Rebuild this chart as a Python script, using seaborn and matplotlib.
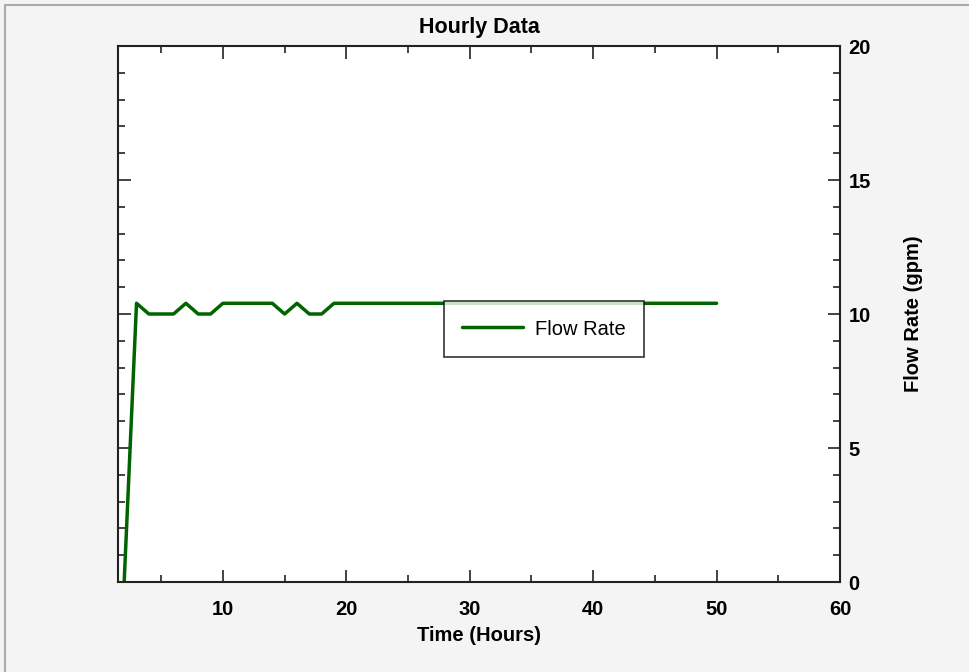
import matplotlib
matplotlib.use("Agg")
import matplotlib.pyplot as plt
from matplotlib.lines import Line2D
from matplotlib.ticker import MultipleLocator
import pandas as pd
import seaborn as sns

# hourly flow readings
hours = list(range(2, 51))
flow = ([0.0, 10.4, 10.0, 10.0, 10.0, 10.4, 10.0, 10.0]
        + [10.4] * 5
        + [10.0, 10.4, 10.0, 10.0]
        + [10.4] * 32)

df = pd.DataFrame({"Time (Hours)": hours, "Flow Rate": flow})

sns.set_style("white")
plt.rcParams["font.family"] = ["Liberation Sans", "DejaVu Sans"]
plt.rcParams["text.color"] = "black"
plt.rcParams["axes.labelcolor"] = "black"

fig = plt.figure(figsize=(9.69, 6.72), dpi=100, facecolor="#f4f4f4")
ax = fig.add_axes([118 / 969, 90 / 672, 722 / 969, 536 / 672])
ax.set_facecolor("white")

sns.lineplot(data=df, x="Time (Hours)", y="Flow Rate", color="#006400",
             linewidth=2.5, ax=ax, label="Flow Rate")

ax.set_xlim(1.5, 60)
ax.set_ylim(0, 20)
ax.xaxis.set_major_locator(MultipleLocator(10))
ax.xaxis.set_minor_locator(MultipleLocator(5))
ax.yaxis.set_major_locator(MultipleLocator(5))
ax.yaxis.set_minor_locator(MultipleLocator(1))

ax.yaxis.tick_right()
ax.yaxis.set_label_position("right")
ax.tick_params(which="both", direction="in", top=True, bottom=True,
               left=True, right=True, labelleft=False, labelright=True,
               width=1.2, color="#222222", labelcolor="black")
ax.tick_params(which="major", length=9, labelsize=14.5)
ax.tick_params(axis="x", which="major", pad=13)
ax.tick_params(axis="y", which="major", pad=6)
ax.tick_params(which="minor", length=5)
for lab in ax.get_xticklabels() + ax.get_yticklabels():
    lab.set_fontweight("bold")

for s in ax.spines.values():
    s.set_visible(True)
    s.set_color("#222222")
    s.set_linewidth(1.5)

ax.set_xlabel("Time (Hours)", fontsize=14.5, fontweight="bold", labelpad=5)
ax.set_ylabel("Flow Rate (gpm)", fontsize=14.5, fontweight="bold", labelpad=24)
ax.set_title("Hourly Data", fontsize=15.5, fontweight="bold", pad=9)

leg = ax.legend(loc="center", bbox_to_anchor=(0.59, 0.472), fontsize=14.5,
                frameon=True, fancybox=False, borderpad=0.9,
                handlelength=3.0, handletextpad=0.6, borderaxespad=0)
leg.get_frame().set_edgecolor("black")
leg.get_frame().set_linewidth(1.2)
for t in leg.get_texts():
    t.set_color("black")

# window-style border at top and left
fig.add_artist(Line2D([5 / 969, 5 / 969], [0, 1 - 5 / 672],
                      transform=fig.transFigure, color="#aaaaaa", lw=1.5))
fig.add_artist(Line2D([5 / 969, 1], [1 - 5 / 672, 1 - 5 / 672],
                      transform=fig.transFigure, color="#aaaaaa", lw=1.5))

fig.savefig("out.png", dpi=100, facecolor=fig.get_facecolor())
